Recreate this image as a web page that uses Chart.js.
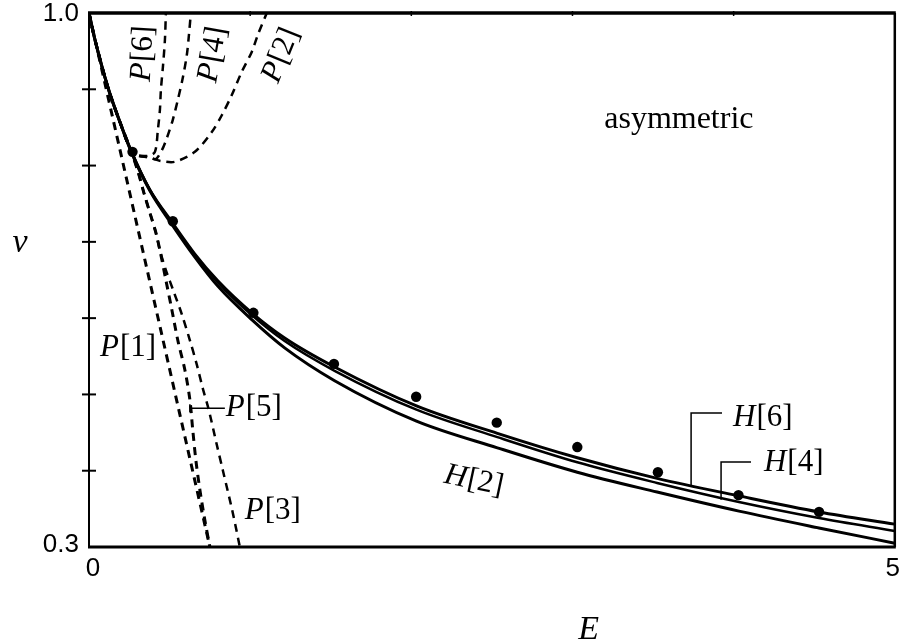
<!DOCTYPE html>
<html><head><meta charset="utf-8">
<script src="https://cdn.jsdelivr.net/npm/chart.js@4.4.1/dist/chart.umd.min.js"></script>
<style>html,body{margin:0;padding:0;background:#fff;overflow:hidden}</style>
</head><body>
<canvas id="c" width="900" height="642"></canvas>
<script>
// ---- data (E, nu) ----
const H_E  = [0, 0.037, 0.118, 0.192, 0.26, 0.378, 0.514, 0.657, 0.799, 1.01, 1.214, 1.524, 2.032, 2.534, 3.03, 3.525, 4.033, 4.529, 5.0];
const H6   = [1.0, 0.965, 0.902, 0.857, 0.820, 0.768, 0.726, 0.684, 0.649, 0.607, 0.574, 0.536, 0.485, 0.449, 0.417, 0.390, 0.367, 0.346, 0.330];
const H4   = [1.0, 0.965, 0.902, 0.857, 0.820, 0.768, 0.725, 0.683, 0.647, 0.604, 0.570, 0.531, 0.480, 0.444, 0.411, 0.384, 0.359, 0.338, 0.321];
const H2   = [1.0, 0.965, 0.902, 0.857, 0.819, 0.767, 0.723, 0.680, 0.642, 0.598, 0.561, 0.518, 0.465, 0.430, 0.398, 0.372, 0.347, 0.325, 0.305];

const DOT_E  = [0.27, 0.52, 1.02, 1.52, 2.03, 2.53, 3.03, 3.53, 4.03, 4.53];
const DOT_NU = [0.818, 0.727, 0.607, 0.540, 0.497, 0.463, 0.431, 0.398, 0.368, 0.346];

const P1_E  = [0, 0.75];
const P1_NU = [1.0, 0.30];

const P5_E  = [0, 0.037, 0.118, 0.192, 0.26, 0.304, 0.341, 0.378, 0.415, 0.44, 0.477, 0.514, 0.551, 0.595, 0.626, 0.644, 0.663, 0.688, 0.719, 0.75];
const P5_NU = [1.0, 0.965, 0.902, 0.857, 0.820, 0.792, 0.764, 0.738, 0.712, 0.689, 0.650, 0.611, 0.571, 0.532, 0.493, 0.453, 0.414, 0.375, 0.335, 0.30];

const P3_E  = [0, 0.037, 0.118, 0.192, 0.26, 0.304, 0.341, 0.378, 0.415, 0.44, 0.477, 0.527, 0.576, 0.626, 0.669, 0.706, 0.743, 0.793, 0.83, 0.892, 0.936];
const P3_NU = [1.0, 0.965, 0.902, 0.857, 0.820, 0.792, 0.764, 0.738, 0.712, 0.689, 0.663, 0.634, 0.605, 0.571, 0.539, 0.508, 0.480, 0.434, 0.401, 0.345, 0.30];

const P2_E  = [0, 0.037, 0.118, 0.192, 0.273, 0.378, 0.446, 0.533, 0.657, 0.762, 0.824, 0.886, 0.948, 1.01, 1.047, 1.103];
const P2_NU = [1.0, 0.965, 0.902, 0.857, 0.8165, 0.810, 0.806, 0.805, 0.818, 0.844, 0.866, 0.8925, 0.923, 0.949, 0.971, 1.0];

const P4_E  = [0, 0.037, 0.118, 0.192, 0.273, 0.378, 0.415, 0.452, 0.483, 0.52, 0.551, 0.582, 0.607, 0.62, 0.632];
const P4_NU = [1.0, 0.965, 0.902, 0.857, 0.8165, 0.811, 0.8086, 0.820, 0.836, 0.860, 0.886, 0.915, 0.945, 0.971, 1.0];

const P6_E  = [0, 0.037, 0.118, 0.192, 0.273, 0.366, 0.409, 0.4275, 0.44, 0.446, 0.4585, 0.471, 0.477];
const P6_NU = [1.0, 0.965, 0.902, 0.857, 0.8165, 0.8126, 0.818, 0.847, 0.873, 0.899, 0.929, 0.9646, 1.0];

// axis ticks / labels
const X_MIN = 0, X_MAX = 5, Y_MIN = 0.3, Y_MAX = 1.0;
const X_LABEL_VALUES = [0, 5];
const X_LABELS = ['0', '5'];
const Y_LABEL_VALUES = [1.0, 0.3];
const Y_LABELS = ['1.0', '0.3'];
const Y_TICK_MARKS = [0.4, 0.5, 0.6, 0.7, 0.8, 0.9];
const X_TICK_MARKS = [1, 2, 3, 4];

// curve labels: [italic letter, bracket text, E, nu, rotation deg, mode]
const CURVE_LABELS = [
  ['P', '[6]', 0.335, 0.946, -87, 'center'],
  ['P', '[4]', 0.768, 0.945, -80, 'center'],
  ['P', '[2]', 1.190, 0.944, -68, 'center'],
  ['P', '[1]', 0.068, 0.550, 0, 'left'],
  ['P', '[5]', 0.849, 0.472, 0, 'left'],
  ['P', '[3]', 0.967, 0.337, 0, 'left'],
  ['H', '[2]', 2.385, 0.387, 12, 'center'],
  ['H', '[6]', 3.996, 0.459, 0, 'left'],
  ['H', '[4]', 4.188, 0.400, 0, 'left']
];
// leaders: polyline in (E, nu)
const LEADERS = [
  [[0.626, 0.482], [0.843, 0.482]],
  [[3.736, 0.381], [3.736, 0.4757], [3.928, 0.4757]],
  [[3.922, 0.362], [3.922, 0.4115], [4.108, 0.4115]]
];
const NOTE_TEXT = 'asymmetric';
const NOTE_POS = [3.197, 0.849];
const X_TITLE = 'E', Y_TITLE = '\u03BD';

function pts(xs, ys) { return xs.map((v, i) => ({x: v, y: ys[i]})); }

const solid = (data, w) => ({data, borderColor: '#000', borderWidth: w, pointRadius: 0, showLine: true, fill: false, cubicInterpolationMode: 'monotone'});
const dashed = (data, w) => ({data, borderColor: '#000', borderWidth: w, borderDash: [8, 6], pointRadius: 0, showLine: true, fill: false, tension: 0.3});

const SERIF = '"Liberation Serif", "Times New Roman", serif';
const SANS = '"Liberation Sans", Arial, sans-serif';

const deco = {
  id: 'deco',
  afterDatasetsDraw(chart) {
    const {ctx, chartArea: a, scales: {x, y}} = chart;
    ctx.save();
    ctx.strokeStyle = '#000'; ctx.fillStyle = '#000';
    ctx.setLineDash([]);
    const seg = (x1, y1, x2, y2, w) => { ctx.lineWidth = w; ctx.beginPath(); ctx.moveTo(x1, y1); ctx.lineTo(x2, y2); ctx.stroke(); };
    // frame
    seg(a.left - 1, a.top, a.right + 1, a.top, 3.5);
    seg(a.left - 1, a.bottom, a.right + 1, a.bottom, 3);
    seg(a.left, a.top, a.left, a.bottom, 2);
    seg(a.right, a.top, a.right, a.bottom, 2.5);
    // tick marks
    Y_TICK_MARKS.forEach(v => { const py = y.getPixelForValue(v); seg(a.left - 7, py, a.left + 7, py, 2); });
    X_TICK_MARKS.forEach(v => { const px = x.getPixelForValue(v); seg(px, a.top - 2, px, a.top + 3, 1.5); });
    // tick labels
    ctx.font = '26px ' + SANS;
    ctx.textAlign = 'right'; ctx.textBaseline = 'middle';
    Y_LABEL_VALUES.forEach((v, i) => ctx.fillText(Y_LABELS[i], a.left - 10, y.getPixelForValue(v) + (i === 0 ? 1 : -2)));
    ctx.textAlign = 'center'; ctx.textBaseline = 'top';
    X_LABEL_VALUES.forEach((v, i) => ctx.fillText(X_LABELS[i], x.getPixelForValue(v) + (i === 0 ? 4 : -2), a.bottom + 9));
    // axis titles
    ctx.font = 'italic 34px ' + SERIF;
    ctx.textAlign = 'center'; ctx.textBaseline = 'alphabetic';
    ctx.fillText(Y_TITLE, a.left - 69, y.getPixelForValue(0.697) + 8);
    ctx.fillText(X_TITLE, x.getPixelForValue(3.10), a.bottom + 92);
    // note
    ctx.font = '32px ' + SERIF;
    ctx.textAlign = 'left';
    ctx.fillText(NOTE_TEXT, x.getPixelForValue(NOTE_POS[0]), y.getPixelForValue(NOTE_POS[1]));
    // leaders
    LEADERS.forEach(L => {
      ctx.lineWidth = 1.5; ctx.beginPath();
      L.forEach((p, i) => { const px = x.getPixelForValue(p[0]), py = y.getPixelForValue(p[1]); i ? ctx.lineTo(px, py) : ctx.moveTo(px, py); });
      ctx.stroke();
    });
    { const px = x.getPixelForValue(LEADERS[0][0][0]), py = y.getPixelForValue(LEADERS[0][0][1]); seg(px, py - 4, px, py + 4, 1.5); }
    // curve labels
    CURVE_LABELS.forEach(([L, B, e, n, rot, mode]) => {
      const fi = 'italic 31px ' + SERIF, fr = '31px ' + SERIF;
      ctx.font = fi; const w1 = ctx.measureText(L).width;
      ctx.font = fr; const w2 = ctx.measureText(B).width;
      const px = x.getPixelForValue(e), py = y.getPixelForValue(n);
      ctx.save();
      ctx.translate(px, py);
      ctx.rotate(rot * Math.PI / 180);
      let x0 = mode === 'center' ? -(w1 + w2) / 2 : 0;
      ctx.textAlign = 'left';
      ctx.textBaseline = mode === 'center' ? 'middle' : 'alphabetic';
      ctx.font = fi; ctx.fillText(L, x0, 0);
      ctx.font = fr; ctx.fillText(B, x0 + w1 + 1, 0);
      ctx.restore();
    });
    ctx.restore();
  }
};

new Chart(document.getElementById('c'), {
  type: 'scatter',
  data: {
    datasets: [
      solid(pts(H_E, H2), 3),
      solid(pts(H_E, H4), 2.5),
      solid(pts(H_E, H6), 3),
      dashed(pts(P1_E, P1_NU), 3),
      dashed(pts(P5_E, P5_NU), 3),
      dashed(pts(P3_E, P3_NU), 2.5),
      dashed(pts(P2_E, P2_NU), 2.5),
      dashed(pts(P4_E, P4_NU), 2.5),
      dashed(pts(P6_E, P6_NU), 2.5),
      {data: pts(DOT_E, DOT_NU), showLine: false, pointRadius: 5.2, pointBackgroundColor: '#000', pointBorderColor: '#000', pointBorderWidth: 0}
    ]
  },
  options: {
    responsive: false, animation: false, devicePixelRatio: 1,
    layout: {padding: {left: 89, right: 4, top: 13, bottom: 95}},
    plugins: {legend: {display: false}, tooltip: {enabled: false}},
    scales: {
      x: {type: 'linear', min: X_MIN, max: X_MAX, display: false},
      y: {type: 'linear', min: Y_MIN, max: Y_MAX, display: false}
    }
  },
  plugins: [deco]
});
</script>
</body></html>
